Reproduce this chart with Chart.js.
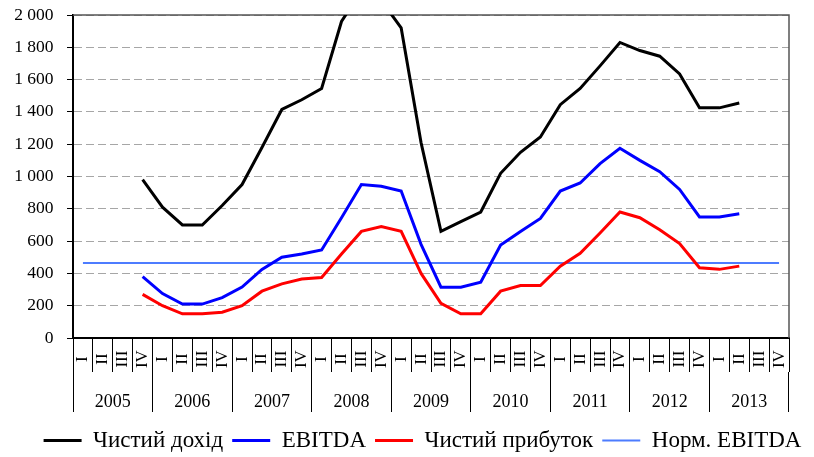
<!DOCTYPE html>
<html>
<head>
<meta charset="utf-8">
<script src="https://cdn.jsdelivr.net/npm/chart.js@4/dist/chart.umd.min.js"></script>
<style>
  html, body { margin: 0; padding: 0; background: #fff; }
  #wrap { width: 814px; height: 457px; }
</style>
</head>
<body>
<div id="wrap"><canvas id="chart"></canvas></div>
<script>
const years = ["2005", "2006", "2007", "2008", "2009", "2010", "2011", "2012", "2013"];
const quarters = ["I", "II", "III", "IV"];

// quarterly values, 2005 Q1 .. 2013 Q4
const netRevenue = [null, null, null, 980,
  810, 700, 700, 820,
  950, 1180, 1415, 1475,
  1545, 1960, 2150, 2090,
  1920, 1210, 660, 720,
  780, 1020, 1150, 1245,
  1445, 1545, 1685, 1830,
  1780, 1745, 1635, 1425,
  1425, 1455, null, null];
const ebitda = [null, null, null, 380,
  275, 210, 210, 250,
  315, 425, 500, 520,
  545, 745, 950, 940,
  910, 580, 315, 315,
  345, 575, 660, 740,
  910, 960, 1080, 1175,
  1100, 1030, 920, 750,
  750, 770, null, null];
const netProfit = [null, null, null, 270,
  200, 150, 150, 160,
  200, 290, 335, 365,
  375, 520, 660, 690,
  660, 400, 215, 150,
  150, 290, 325, 325,
  445, 525, 650, 780,
  745, 670, 585, 435,
  425, 445, null, null];
const normEbitda = [465, 465, 465, 465,
  465, 465, 465, 465,
  465, 465, 465, 465,
  465, 465, 465, 465,
  465, 465, 465, 465,
  465, 465, 465, 465,
  465, 465, 465, 465,
  465, 465, 465, 465,
  465, 465, 465, 465];

const seriesNames = ["Чистий дохід", "EBITDA", "Чистий прибуток", "Норм. EBITDA"];
const yTicks = { min: 0, max: 2000, step: 200 };

const labels = years.flatMap((y) => quarters.map((q) => q + " " + y));
const serif = "'Liberation Serif', 'DejaVu Serif', serif";

const fmt = (v) => String(v).replace(/\B(?=(\d{3})+(?!\d))/g, " ");

// top/right frame of the plot area
const frame = {
  id: "frame",
  beforeDatasetsDraw(chart) {
    const { ctx, chartArea: a } = chart;
    ctx.save();
    ctx.strokeStyle = "#555";
    ctx.lineWidth = 1.5;
    ctx.beginPath();
    ctx.moveTo(a.left, a.top);
    ctx.lineTo(a.right, a.top);
    ctx.lineTo(a.right, a.bottom);
    ctx.stroke();
    ctx.restore();
  },
};

// rotated roman numerals, centred in each quarter cell
const quarterLabels = {
  id: "quarterLabels",
  afterDraw(chart) {
    const x = chart.scales.x;
    const ctx = chart.ctx;
    const midY = x.top + x.height * 0.62;
    ctx.save();
    ctx.font = "17px " + serif;
    ctx.fillStyle = "#000";
    ctx.textAlign = "center";
    ctx.textBaseline = "middle";
    labels.forEach((lab, i) => {
      ctx.save();
      ctx.translate(x.getPixelForValue(i), midY);
      ctx.rotate(-Math.PI / 2);
      ctx.fillText(quarters[i % 4], 0, 0);
      ctx.restore();
    });
    ctx.restore();
  },
};

// legend sits a bit right of the canvas centre
const legendShift = {
  id: "legendShift",
  afterLayout(chart) {
    chart.legend.left += 28;
    chart.legend.right += 28;
  },
};

new Chart(document.getElementById("chart"), {
  type: "line",
  data: {
    labels,
    datasets: [
      { label: seriesNames[0], data: netRevenue, borderColor: "#000000", borderWidth: 3 },
      { label: seriesNames[1], data: ebitda, borderColor: "#0000ff", borderWidth: 3 },
      { label: seriesNames[2], data: netProfit, borderColor: "#ff0000", borderWidth: 3 },
      { label: seriesNames[3], data: normEbitda, borderColor: "#4d7cff", borderWidth: 2 },
    ],
  },
  options: {
    responsive: true,
    maintainAspectRatio: false,
    animation: false,
    devicePixelRatio: 1,
    elements: {
      point: { radius: 0, hoverRadius: 0 },
      line: { tension: 0, fill: false },
    },
    layout: { padding: { left: 0, right: 25, top: 15, bottom: -5 } },
    plugins: {
      title: { display: false },
      tooltip: { enabled: false },
      legend: {
        position: "bottom",
        labels: {
          usePointStyle: true,
          pointStyle: "line",
          pointStyleWidth: 38,
          padding: 9,
          color: "#000",
          font: { family: serif, size: 23 },
        },
      },
    },
    scales: {
      x: {
        type: "category",
        offset: true,
        grid: {
          offset: true,
          drawOnChartArea: false,
          tickLength: 34,
          color: "#000",
          tickColor: "#000",
          lineWidth: 1,
        },
        border: { display: true, color: "#000", width: 2 },
        ticks: { display: false, autoSkip: false },
        afterFit: (s) => { s.height = 34; },
      },
      x2: {
        type: "category",
        labels: years,
        position: "bottom",
        offset: true,
        grid: {
          offset: true,
          drawOnChartArea: false,
          tickLength: 40,
          color: "#000",
          tickColor: "#000",
          lineWidth: 1,
        },
        border: { display: false },
        ticks: {
          autoSkip: false,
          maxRotation: 0,
          padding: -21,
          color: "#000",
          font: { family: serif, size: 18 },
        },
        afterFit: (s) => { s.height = 48; },
      },
      y: {
        min: yTicks.min,
        max: yTicks.max,
        ticks: {
          stepSize: yTicks.step,
          padding: 13.5,
          color: "#000",
          font: { family: serif, size: 17.5 },
          callback: (v) => fmt(v),
        },
        grid: {
          color: "#a6a6a6",
          lineWidth: 1,
          tickLength: 6,
          tickColor: "#000",
          tickBorderDash: [0, 0],
        },
        border: { display: true, color: "#000", width: 2, dash: [8, 4] },
        afterFit: (s) => {
          s.width = 73;
          s.paddingTop = 0;
          s.paddingBottom = 0;
        },
      },
    },
  },
  plugins: [frame, quarterLabels, legendShift],
});
</script>
</body>
</html>
